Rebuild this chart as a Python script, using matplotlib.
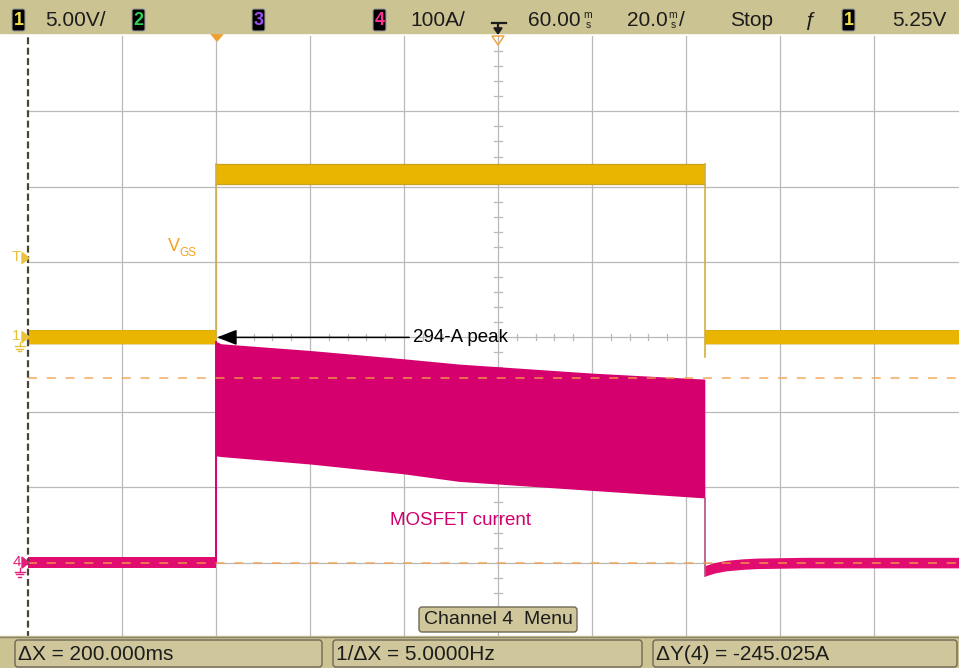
import matplotlib
matplotlib.use("Agg")
import matplotlib.pyplot as plt
import matplotlib.transforms as mtransforms
from matplotlib.patches import Rectangle, FancyBboxPatch, Polygon
import numpy as np

plt.rcParams["font.family"] = ["Liberation Sans", "DejaVu Sans"]
plt.rcParams["lines.scale_dashes"] = False

# ---- scope settings ----
CH1_VOLTS_PER_DIV = 5.0
CH4_AMPS_PER_DIV = 100.0
TIME_PER_DIV_MS = 20.0
DELAY_MS = 60.0
CH1_OFFSET_DIV = 0.0
CH4_OFFSET_DIV = -3.0
TRIG_LEVEL_V = 5.25
RUN_STATE = "Stop"

# ---- channel 1: gate-source voltage ----
vgs_edges_ms = [0.0, 104.0]
vgs_high_band_v = [10.2, 11.5]
vgs_low_band_v = [-0.45, 0.45]

# ---- channel 4: MOSFET current envelope while the gate is on ----
i_pulse_t_ms = [0.0, 1.1, 20.2, 40.0, 51.7, 80.0, 104.0]
i_pulse_upper_a = [294, 291, 282, 271, 264, 252, 244]
i_pulse_lower_a = [142, 141, 131, 118, 108, 96, 86]

# current recovery after turn-off, and band half-width of the flat trace
i_tail_t_ms = [104.0, 106.0, 108.5, 112.0, 115.0, 125.0, 160.0]
i_tail_a = [-11, -7, -4, -2, -1, 0, 0]
i_band_half_a = 7.0

# cursors
cursor_x_ms = [-40.0, 160.0]
cursor_y_a = [245.025, 0.0]

YEL = "#eab500"
YEL_EDGE = "#c9a020"
MAG = "#d5006d"
MAG_FLAT = "#e00c70"
CURSOR = "#f4a048"
GRID = "#b9b9b9"
BAR = "#ccc392"
BOX = "#cfc79b"
BOX_EDGE = "#6e6856"
TXT = "#1c1c1c"


def ch1(v):
    return np.asarray(v, float) / CH1_VOLTS_PER_DIV + CH1_OFFSET_DIV


def ch4(i):
    return np.asarray(i, float) / CH4_AMPS_PER_DIV + CH4_OFFSET_DIV


W, H = 959, 668
fig = plt.figure(figsize=(W / 100, H / 100), dpi=100)
fig.patch.set_facecolor("white")

# graticule area: 10 x 8 divisions, centre at pixel (498, 337)
px_div_x, px_div_y = 94.0, 75.2
cx_px, cy_px = 498, 337
left_px = cx_px - 5 * px_div_x
top_px = cy_px - 4 * px_div_y
ax = fig.add_axes([left_px / W, (H - (top_px + 8 * px_div_y)) / H,
                   10 * px_div_x / W, 8 * px_div_y / H])
t0 = DELAY_MS - 5 * TIME_PER_DIV_MS
t1 = DELAY_MS + 5 * TIME_PER_DIV_MS
ax.set_xlim(t0, t1)
ax.set_ylim(-4, 4)
ax.axis("off")

# grid
for k in range(1, 10):
    ax.axvline(t0 + k * TIME_PER_DIV_MS, color=GRID, lw=0.9, zorder=1)
for k in range(-3, 4):
    ax.axhline(k, color=GRID, lw=0.9, zorder=1)
# minor ticks on the centre axes
for k in range(-25, 26):
    if k % 5:
        tx = DELAY_MS + k * TIME_PER_DIV_MS / 5
        ax.plot([tx, tx], [-0.045, 0.045], color=GRID, lw=0.9, zorder=1)
for k in range(-20, 21):
    if k % 5:
        ax.plot([DELAY_MS - 0.8, DELAY_MS + 0.8], [k / 5, k / 5],
                color=GRID, lw=0.9, zorder=1)

# ---- channel 1 trace ----
on_ms, off_ms = vgs_edges_ms
ax.fill_between([t0, on_ms], ch1(vgs_low_band_v[0]), ch1(vgs_low_band_v[1]),
                color=YEL, lw=0, zorder=3)
ax.fill_between([off_ms, t1], ch1(vgs_low_band_v[0]), ch1(vgs_low_band_v[1]),
                color=YEL, lw=0, zorder=3)
ax.fill_between([on_ms, off_ms], ch1(vgs_high_band_v[0]), ch1(vgs_high_band_v[1]),
                color=YEL, lw=0, zorder=3)
for v in vgs_high_band_v:
    ax.plot([on_ms, off_ms], [ch1(v)] * 2, color=YEL_EDGE, lw=0.9, zorder=3)
for v in vgs_low_band_v:
    ax.plot([t0, on_ms], [ch1(v)] * 2, color=YEL_EDGE, lw=0.5, zorder=3, alpha=0.6)
    ax.plot([off_ms, t1], [ch1(v)] * 2, color=YEL_EDGE, lw=0.5, zorder=3, alpha=0.6)
ax.plot([on_ms, on_ms], [ch1(vgs_low_band_v[0]), ch1(vgs_high_band_v[1])],
        color="#d0b040", lw=1.2, zorder=3)
ax.plot([off_ms, off_ms], [ch1(-1.3), ch1(vgs_high_band_v[1])],
        color="#d0b040", lw=1.2, zorder=3)

# ---- channel 4 trace ----
ax.fill_between([t0, on_ms], ch4(-i_band_half_a), ch4(i_band_half_a),
                color=MAG_FLAT, lw=0, zorder=4)
ax.fill_between(i_pulse_t_ms, ch4(i_pulse_lower_a), ch4(i_pulse_upper_a),
                color=MAG, lw=0, zorder=4)
tail = np.asarray(i_tail_a, float)
ax.fill_between(i_tail_t_ms, ch4(tail - i_band_half_a), ch4(tail + i_band_half_a),
                color=MAG_FLAT, lw=0, zorder=4)
ax.plot([on_ms, on_ms], [ch4(0), ch4(i_pulse_upper_a[0])], color=MAG, lw=1.4, zorder=4)
ax.plot([off_ms, off_ms], [ch4(i_tail_a[0] - i_band_half_a), ch4(i_pulse_lower_a[-1])],
        color="#b0507a", lw=1.2, zorder=4)

# ---- cursors ----
for ya in cursor_y_a:
    ax.axhline(ch4(ya), color=CURSOR, lw=1.3, ls=(0, (6.5, 7)), alpha=0.75, zorder=5)
ax.axvline(cursor_x_ms[0], color="#4a4436", lw=1.6, ls=(0, (5, 2.5)),
           zorder=6, clip_on=False)

# ---- annotations ----
peak_a = max(i_pulse_upper_a)
ax.annotate(f"{peak_a}-A peak", xy=(0.2, ch4(peak_a) + 0.055),
            xytext=(DELAY_MS - 0.9 * TIME_PER_DIV_MS, ch4(peak_a) + 0.055),
            fontsize=13.5, color="black", va="center", ha="left", zorder=8,
            arrowprops=dict(arrowstyle="-|>,head_length=0.9,head_width=0.35",
                            color="black", lw=1.1, shrinkA=1, shrinkB=0))
ax.text(52.0, ch4(i_pulse_lower_a[4]) - 0.52, "MOSFET current", color="#d2006c",
        fontsize=13.5, ha="center", va="center", zorder=8)

# ---- overlay in screen pixels ----
ui = fig.add_axes([0, 0, 1, 1])
ui.set_xlim(0, W)
ui.set_ylim(H, 0)
ui.axis("off")

# V_GS label
ui.text(168, 251, "V", color="#f5a21c", fontsize=13, ha="left", va="baseline")
ui.text(179.5, 256, "GS", color="#f5a21c", fontsize=8.5, ha="left", va="baseline")


# left-edge channel markers (arrow, label and optional ground symbol)
def marker(y_div, label, color, ground):
    yp = cy_px - float(y_div) * px_div_y
    ui.add_patch(Polygon([[22, yp - 5.5], [29, yp], [22, yp + 5.5]],
                         closed=True, color=color, zorder=9))
    ui.text(16.5, yp - 1, label, color=color, fontsize=11, ha="center", va="center")
    if ground:
        gx = 19.5
        ui.plot([gx, gx], [yp + 5, yp + 9], color=color, lw=1.0)
        for dy_, half in [(9, 5), (11.5, 3.2), (14, 1.4)]:
            ui.plot([gx - half, gx + half], [yp + dy_] * 2, color=color, lw=1.0)


marker(ch1(TRIG_LEVEL_V), "T", "#e8c23a", False)
marker(ch1(0), "1", "#e8c23a", True)
marker(ch4(0), "4", "#e0207a", True)

# trigger position markers at the top of the graticule
ui.add_patch(Polygon([[211, 34], [223, 34], [217, 41]], closed=True,
                     color="#f0a030", zorder=9))
ui.add_patch(Polygon([[492, 36], [504, 36], [498, 45]], closed=True,
                     facecolor="none", edgecolor="#f0a030", lw=1.0, zorder=9))

# top status bar
ui.add_patch(Rectangle((0, 0), W, 33, color=BAR, zorder=10))


def chan_box(x, label, color):
    ui.add_patch(FancyBboxPatch((x, 9), 13, 22, boxstyle="round,pad=0,rounding_size=2",
                                facecolor="black", edgecolor="#9a9a9a", lw=0.8, zorder=11))
    ui.text(x + 6.5, 20.5, label, color=color, fontsize=13, fontweight="bold",
            ha="center", va="center", zorder=12)


def stacked_ms(x):
    ui.text(x, 14.5, "m", color=TXT, fontsize=7.5, ha="center", va="center", zorder=12)
    ui.text(x, 25.5, "s", color=TXT, fontsize=7.5, ha="center", va="center", zorder=12)


chan_box(12, "1", "#f5e04a")
ui.text(45, 21, f"{CH1_VOLTS_PER_DIV:.2f}V/", color=TXT, fontsize=15, va="center", zorder=12)
chan_box(132, "2", "#30d050")
chan_box(252, "3", "#a050f0")
chan_box(373, "4", "#ff3090")
ui.text(410, 21, f"{CH4_AMPS_PER_DIV:.0f}A/", color=TXT, fontsize=15, va="center", zorder=12)

# horizontal delay glyph
ui.plot([492, 506], [23, 23], color=TXT, lw=1.6, zorder=12)
ui.annotate("", xy=(498, 35), xytext=(498, 23), zorder=12,
            arrowprops=dict(arrowstyle="-|>,head_length=0.35,head_width=0.25",
                            color=TXT, lw=1.6, shrinkA=0, shrinkB=0))

ui.text(528, 21, f"{DELAY_MS:.2f}", color=TXT, fontsize=15, va="center", zorder=12)
stacked_ms(588)
ui.text(627, 21, f"{TIME_PER_DIV_MS:.1f}", color=TXT, fontsize=15, va="center", zorder=12)
stacked_ms(673)
ui.text(679, 21, "/", color=TXT, fontsize=15, va="center", zorder=12)
ui.text(730, 21, RUN_STATE, color=TXT, fontsize=15, va="center", zorder=12)
ui.text(810, 21, "ƒ", color=TXT, fontsize=15, ha="center", va="center", zorder=12)
chan_box(842, "1", "#f5e04a")
ui.text(892, 21, f"{TRIG_LEVEL_V:.2f}V", color=TXT, fontsize=15, va="center", zorder=12)

# softkey label
ui.add_patch(FancyBboxPatch((419, 607), 158, 25, boxstyle="round,pad=0,rounding_size=3",
                            facecolor=BOX, edgecolor=BOX_EDGE, lw=1.0, zorder=10))
ui.text(424, 620, "Channel 4  Menu", color=TXT, fontsize=14, va="center", zorder=12)

# bottom measurement bar
ui.add_patch(Rectangle((0, 636), W, H - 636, color=BAR, zorder=10))
ui.plot([0, W], [636.5, 636.5], color="#8a836c", lw=1, zorder=11)
dx = cursor_x_ms[1] - cursor_x_ms[0]
dy = cursor_y_a[1] - cursor_y_a[0]
readouts = [
    (15, 322, f"ΔX = {dx:.3f}ms"),
    (333, 642, f"1/ΔX = {1000.0 / dx:.4f}Hz"),
    (653, 957, f"ΔY(4) = {dy:.3f}A"),
]
for x0, x1, label in readouts:
    ui.add_patch(FancyBboxPatch((x0, 640), x1 - x0, 27,
                                boxstyle="round,pad=0,rounding_size=3",
                                facecolor=BOX, edgecolor=BOX_EDGE, lw=1.0, zorder=11))
    ui.text(x0 + 3, 654, label, color=TXT, fontsize=15, va="center", zorder=12)

fig.savefig("out.png", dpi=100, facecolor="white")
